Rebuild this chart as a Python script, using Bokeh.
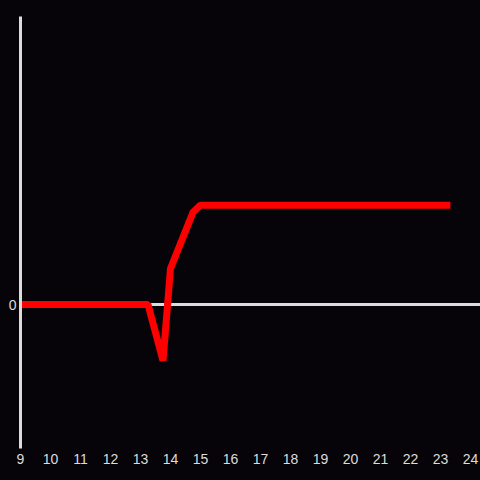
from bokeh.plotting import figure
from bokeh.models import Range1d, FixedTicker, Span
from bokeh.embed import file_html
from bokeh.resources import INLINE

hours = [9, 13.25, 13.75, 14.0, 14.75, 15.0, 23.33]
values = [0, 0, -0.39, 0.25, 0.64, 0.69, 0.69]
x_ticks = list(range(9, 25))
y_ticks = [0]

BG = "#060408"
FG = "#dcdcdc"

p = figure(width=480, height=480, output_backend="svg", toolbar_location=None,
           x_range=Range1d(9, 9 + 460 / 30), y_range=Range1d(-1, 2),
           background_fill_color=BG, border_fill_color=BG,
           min_border_left=20, min_border_right=0, min_border_top=16, min_border_bottom=32)
p.outline_line_color = None
p.grid.visible = False

p.add_layout(Span(location=0, dimension="width", line_color=FG, line_width=3, level="underlay"))
p.line(hours, values, line_color="#ff0000", line_width=7, line_join="bevel", line_cap="butt")

p.xaxis.ticker = FixedTicker(ticks=x_ticks)
p.xaxis.axis_line_color = None
p.xaxis.major_tick_line_color = None
p.xaxis.minor_tick_line_color = None
p.xaxis.major_tick_out = 0
p.xaxis.major_tick_in = 0
p.xaxis.major_label_text_color = FG
p.xaxis.major_label_text_font = "Liberation Sans"
p.xaxis.major_label_text_font_size = "14px"
p.xaxis.major_label_standoff = 5

p.yaxis.ticker = FixedTicker(ticks=y_ticks)
p.yaxis.axis_line_color = FG
p.yaxis.axis_line_width = 3
p.yaxis.major_tick_line_color = None
p.yaxis.minor_tick_line_color = None
p.yaxis.major_tick_out = 0
p.yaxis.major_tick_in = 0
p.yaxis.major_label_text_color = FG
p.yaxis.major_label_text_font = "Liberation Sans"
p.yaxis.major_label_text_font_size = "14px"
p.yaxis.major_label_standoff = 4

html = file_html(p, INLINE)
html = html.replace("</head>", "<style>html,body{background:%s;overflow:hidden;}</style></head>" % BG, 1)
open("out.html", "w").write(html)
